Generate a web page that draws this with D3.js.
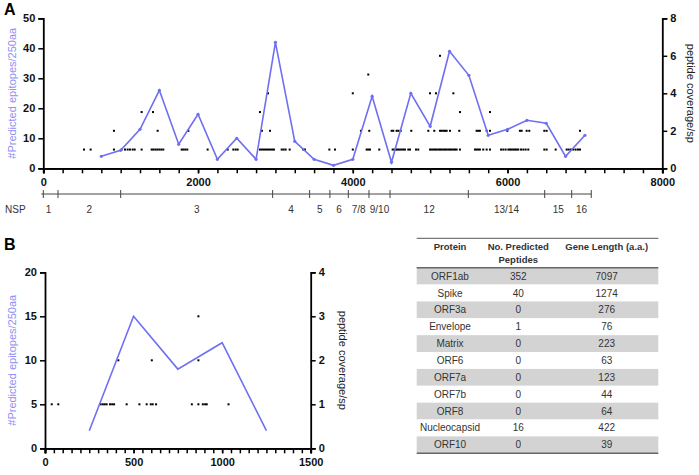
<!DOCTYPE html>
<html><head><meta charset="utf-8">
<script src="https://cdn.jsdelivr.net/npm/d3@7"></script>
<style>body{margin:0;background:#fff}svg{display:block}</style>
</head><body>
<svg id="c" width="699" height="475"></svg>
<script>
// ---------- DATA ----------
// Panel A: predicted epitopes per 250 aa (ORF1ab)
const epiPosA = [750,1000,1250,1500,1750,2000,2250,2500,2750,3000,3250,3500,3750,4000,4250,4500,4750,5000,5250,5500,5750,6000,6250,6500,6750,7000];
const epiValA = [4,6,13,26,8,18,3,10,3,42,9,3,1,3,24,2,25,14,39,31,11,13,16,15,4,11];
// Panel A: peptide coverage (right axis), positions grouped by coverage level
const covA1 = [526,612,913,1012,1056,1090,1120,1155,1181,1271,1400,1422,1448,1473,1499,1525,1551,1788,1810,1835,1861,2124,2383,2456,2486,2512,2800,2826,2852,2878,2904,2930,2956,2981,3081,3106,3132,3184,3360,3382,3697,3770,4000,4179,4200,4222,4342,4515,4538,4560,4583,4606,4628,4651,4674,4717,4739,4817,4846,4998,5020,5041,5063,5084,5106,5127,5149,5170,5192,5213,5235,5256,5278,5299,5321,5342,5385,5579,5600,5621,5643,5686,5730,5773,5916,5945,5975,6010,6032,6054,6075,6097,6118,6139,6174,6204,6234,6268,6475,6505,6622,6764,6790,6818,6850,6880,6910,6936];
const covA2 = [913,1478,1875,2826,2930,4105,4213,4502,4523,4566,4588,4619,4756,4976,5053,5127,5148,5170,5192,5213,5256,5376,5600,5621,5643,5730,5773,5997,6160,6182,6247,6281,6475,6505,6936];
const covA3 = [1271,1418,2800,5385,5773];
const covA4 = [2904,4000,4998,5075,5300];
const covA5 = [4200];
const covA6 = [5127];
// NSP segments of ORF1ab
const nspBounds = [0,190,1000,2964,3442,3704,3942,4209,4481,5493,6480,6829,7082];
const nspLabels = ["1","2","3","4","5","6","7/8","9/10","12","13/14","15","16"];
const xTicksA = [0,2000,4000,6000,8000];
const yTicksA = [0,10,20,30,40,50];
const yTicksA2 = [0,2,4,6,8];

// Panel B: Spike
const epiPosB = [250,500,750,1000,1250];
const epiValB = [2,15,9,12,2];
const covB1 = [38,75,314,326,337,348,367,379,390,461,533,574,597,608,627,829,866,891,904,913,1036];
const covB2 = [414,603,866];
const covB3 = [866];
const xTicksB = [0,500,1000,1500];
const yTicksB = [0,5,10,15,20];
const yTicksB2 = [0,1,2,3,4];

// Table
const tableHeader = ["Protein","No. Predicted|Peptides","Gene Length (a.a.)"];
const proteins = ["ORF1ab","Spike","ORF3a","Envelope","Matrix","ORF6","ORF7a","ORF7b","ORF8","Nucleocapsid","ORF10"];
const predictedPeptides = [352,40,0,1,0,0,0,0,0,16,0];
const geneLength = [7097,1274,276,76,223,63,123,44,64,422,39];

// ---------- DRAW ----------
const svg = d3.select("#c");
const lineCol = "#6f6ff2";
const titleCol = "#9090f2";
const FONT = "'Liberation Sans', Arial, sans-serif";
const fmt = d3.format("d");

function styleAxis(g){
  g.select(".domain").attr("stroke","#000").attr("stroke-width",1.8);
  g.selectAll(".tick line").attr("stroke","#000").attr("stroke-width",1.5);
  g.selectAll(".tick text").attr("font-family",FONT).attr("font-size",11).attr("font-weight","bold").attr("fill","#111");
}

function panel(o){
  const x = d3.scaleLinear().domain(o.xDom).range([o.x0,o.x1]);
  const y = d3.scaleLinear().domain(o.yDom).range([o.yb,o.yt]);
  const y2 = d3.scaleLinear().domain(o.y2Dom).range([o.yb,o.yt]);
  const minor = d3.range(o.xDom[0], o.xDom[1]+1e-9, o.minorStep);
  svg.append("g").attr("transform",`translate(0,${o.yb})`)
    .call(d3.axisBottom(x).tickValues(minor).tickFormat("").tickSizeOuter(0).tickSize(5))
    .call(styleAxis);
  svg.append("g").attr("transform",`translate(0,${o.yb})`)
    .call(d3.axisBottom(x).tickValues(o.xTicks).tickFormat(fmt).tickSizeOuter(0).tickSize(5).tickPadding(5))
    .call(styleAxis);
  svg.append("g").attr("transform",`translate(${o.x0},0)`)
    .call(d3.axisLeft(y).tickValues(o.yTicks).tickFormat(fmt).tickSizeOuter(0).tickSize(5).tickPadding(3))
    .call(styleAxis);
  svg.append("g").attr("transform",`translate(${o.x1},0)`)
    .call(d3.axisRight(y2).tickValues(o.y2Ticks).tickFormat(fmt).tickSizeOuter(0).tickSize(5).tickPadding(3))
    .call(styleAxis);
  o.cov.forEach((arr,i)=>{
    svg.append("g").selectAll("rect").data(arr).join("rect")
      .attr("x",d=>x(d)-1).attr("y",y2(i+1)-1).attr("width",2).attr("height",2).attr("fill","#000");
  });
  const pts = o.epiPos.map((p,i)=>[p,o.epiVal[i]]);
  svg.append("path").datum(pts)
    .attr("d",d3.line().x(d=>x(d[0])).y(d=>y(d[1])))
    .attr("fill","none").attr("stroke",lineCol).attr("stroke-width",1.6);
  if(o.markers){
    svg.append("g").selectAll("circle").data(pts).join("circle")
      .attr("cx",d=>x(d[0])).attr("cy",d=>y(d[1])).attr("r",1.6).attr("fill",lineCol);
  }
  const cy = (o.yb+o.yt)/2;
  svg.append("text").attr("transform",`translate(${o.lt},${cy}) rotate(-90)`)
    .attr("text-anchor","middle").attr("font-family",FONT).attr("font-size",11)
    .attr("fill",titleCol).text("#Predicted epitopes/250aa");
  svg.append("text").attr("transform",`translate(${o.rt},${cy}) rotate(90)`)
    .attr("text-anchor","middle").attr("font-family",FONT).attr("font-size",11)
    .attr("fill","#222").text("peptide coverage/sp");
  return x;
}

const xA = panel({xDom:[0,8000],x0:43.3,x1:662.3,yDom:[0,50],y2Dom:[0,8],yb:168.3,yt:18.3,
  minorStep:250,xTicks:xTicksA,yTicks:yTicksA,y2Ticks:yTicksA2,
  cov:[covA1,covA2,covA3,covA4,covA5,covA6],epiPos:epiPosA,epiVal:epiValA,markers:true,lt:16,rt:687});

const xB = panel({xDom:[0,1500],x0:45,x1:310.7,yDom:[0,20],y2Dom:[0,4],yb:448.3,yt:272.3,
  minorStep:50,xTicks:xTicksB,yTicks:yTicksB,y2Ticks:yTicksB2,
  cov:[covB1,covB2,covB3],epiPos:epiPosB,epiVal:epiValB,markers:false,lt:16,rt:339});

svg.append("text").attr("x",4).attr("y",15).attr("font-family",FONT).attr("font-weight","bold").attr("font-size",16).text("A");
svg.append("text").attr("x",4).attr("y",250).attr("font-family",FONT).attr("font-weight","bold").attr("font-size",16).text("B");

// NSP bar
const nspY = 194;
const nspG = svg.append("g").attr("stroke","#444").attr("stroke-width",1);
nspG.append("line").attr("x1",xA(nspBounds[0])-2).attr("x2",xA(nspBounds[nspBounds.length-1])).attr("y1",nspY).attr("y2",nspY);
nspG.selectAll("line.t").data(nspBounds).join("line").attr("class","t")
  .attr("x1",d=>xA(d)).attr("x2",d=>xA(d)).attr("y1",nspY-4).attr("y2",nspY+4);
svg.append("text").attr("x",5).attr("y",213).attr("font-family",FONT).attr("font-size",10).attr("fill","#333").text("NSP");
svg.append("g").selectAll("text").data(nspLabels).join("text")
  .attr("x",(d,i)=>(xA(nspBounds[i])+xA(nspBounds[i+1]))/2 + (i===0?-2:0))
  .attr("y",213).attr("text-anchor","middle").attr("font-family",FONT).attr("font-size",10).attr("fill","#333").text(d=>d);

// Table
const tx0 = 416.7, tx1 = 658.3, colX = [450,518.3,606.7];
const rowTop = 267.7, rowH = 16.87;
const tg = svg.append("g").attr("font-family",FONT).attr("font-size",10).attr("fill","#333");
tg.selectAll("rect").data(proteins).join("rect")
  .attr("x",tx0).attr("width",tx1-tx0).attr("y",(d,i)=>rowTop+i*rowH).attr("height",rowH)
  .attr("fill",(d,i)=>i%2===0?"#d3d3d3":"#fff");
tg.append("line").attr("x1",tx0).attr("x2",tx1).attr("y1",238.3).attr("y2",238.3).attr("stroke","#555").attr("stroke-width",1);
tg.append("line").attr("x1",tx0).attr("x2",tx1).attr("y1",rowTop).attr("y2",rowTop).attr("stroke","#666").attr("stroke-width",1.5);
tg.append("line").attr("x1",tx0).attr("x2",tx1).attr("y1",rowTop+proteins.length*rowH).attr("y2",rowTop+proteins.length*rowH).attr("stroke","#666").attr("stroke-width",1.5);
tableHeader.forEach((h,j)=>{
  h.split("|").forEach((ln,k)=>{
    tg.append("text").attr("x",colX[j]).attr("y",250+k*12.6).attr("text-anchor","middle")
      .attr("font-weight","bold").attr("font-size",9.5).text(ln);
  });
});
const rows = proteins.map((p,i)=>[p,predictedPeptides[i],geneLength[i]]);
rows.forEach((r,i)=>{
  r.forEach((v,j)=>{
    tg.append("text").attr("x",colX[j]).attr("y",rowTop+i*rowH+rowH/2+3.5).attr("text-anchor","middle").text(v);
  });
});
</script>
</body></html>
